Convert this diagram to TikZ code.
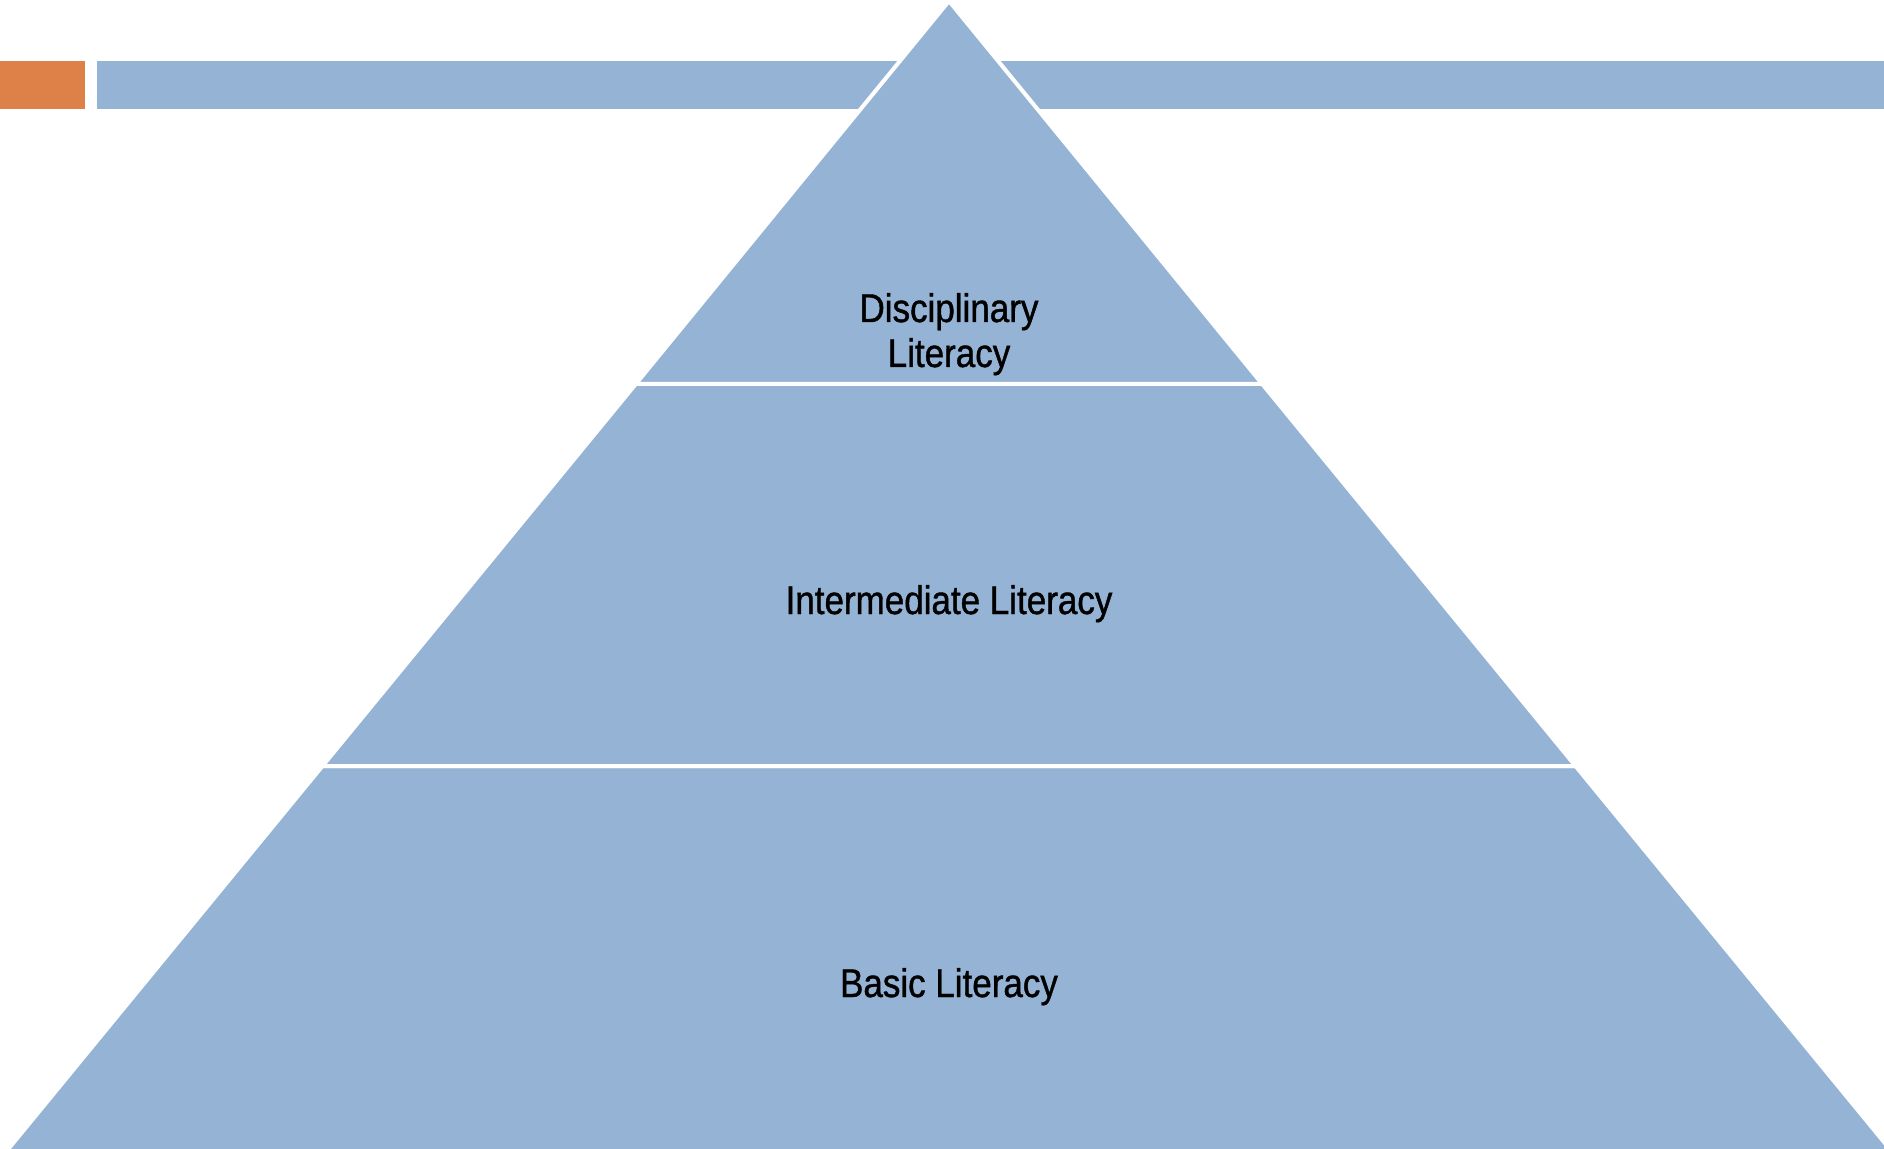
\documentclass[tikz,border=0pt]{standalone}
\usepackage{fontspec}
\setmainfont{Liberation Sans}[FakeStretch=0.875, FakeBold=1]
\definecolor{pyrblue}{HTML}{95B3D5}
\definecolor{accorange}{HTML}{DE8148}
\tikzset{
  level/.style={fill=pyrblue, draw=white, line width=2pt, line join=miter},
  barblue/.style={fill=pyrblue, draw=none},
  barorange/.style={fill=accorange, draw=none},
  label/.style={anchor=base, font=\fontsize{20}{22.5}\selectfont, text=black, align=center, inner sep=0pt}
}
\begin{document}
\begin{tikzpicture}[x=0.5pt, y=-0.5pt]
\useasboundingbox (0,0) rectangle (1884,1149);
\clip (0,0) rectangle (1884,1149);
% header bars
\fill[barorange] (0,61) rectangle (85,109);
\fill[barblue] (97,61) rectangle (1884,109);
% pyramid levels
\coordinate (apex) at (949,1);
\coordinate (l1) at (635.8,384);
\coordinate (r1) at (1262.2,384);
\coordinate (l2) at (322.5,766);
\coordinate (r2) at (1575.5,766);
\coordinate (l3) at (-0.7,1160);
\coordinate (r3) at (1898.7,1160);
\draw[level] (l3) -- (l2) -- (r2) -- (r3) -- cycle;
\draw[level] (l2) -- (l1) -- (r1) -- (r2) -- cycle;
\draw[level] (l1) -- (apex) -- (r1) -- cycle;
% labels
\node[label] (top) at (949,367) {Disciplinary\\Literacy};
\node[label] (mid) at (949,614) {Intermediate Literacy};
\node[label] (bot) at (949,997) {Basic Literacy};
\end{tikzpicture}
\end{document}
